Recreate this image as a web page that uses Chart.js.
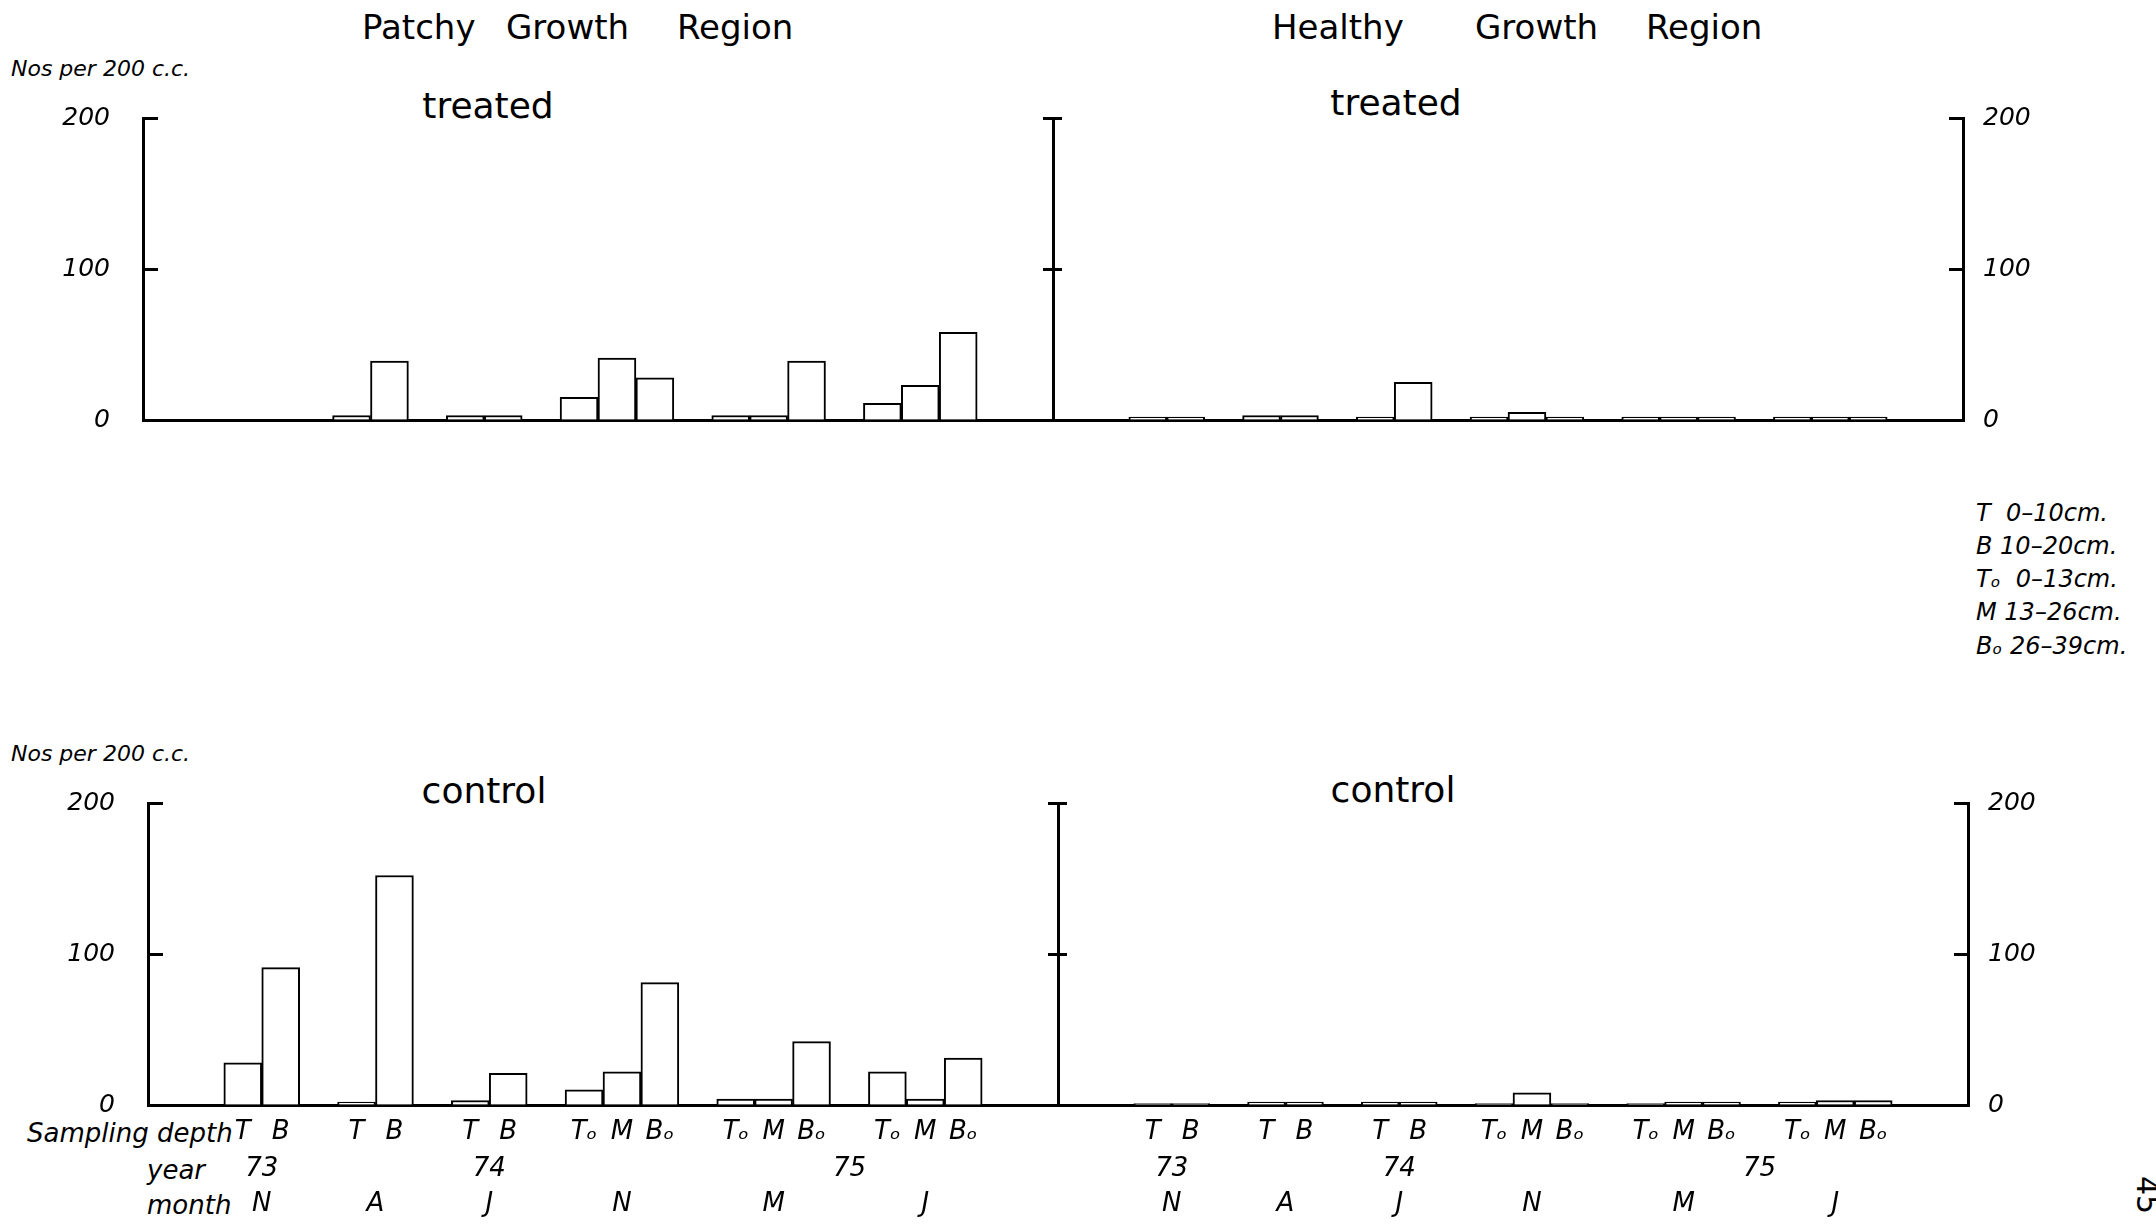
<!DOCTYPE html>
<html>
<head>
<meta charset="utf-8">
<script src="https://cdn.jsdelivr.net/npm/chart.js@4.4.1/dist/chart.umd.min.js"></script>
<style>
  html, body { margin: 0; padding: 0; background: #fff; }
  body { width: 2156px; height: 1224px; position: relative; overflow: hidden; font-family: "DejaVu Sans", sans-serif; color: #000; }
  .t { position: absolute; white-space: pre; line-height: 1; transform: translateY(-50%); }
  .c { transform: translate(-50%, -50%); }
  .i { font-style: italic; }
  canvas { position: absolute; left: 0; }
</style>
</head>
<body>
<div class="t" style="left:362px;top:27px;font-size:34px">Patchy</div>
<div class="t" style="left:506px;top:27px;font-size:34px">Growth</div>
<div class="t" style="left:677px;top:27px;font-size:34px">Region</div>
<div class="t" style="left:1272px;top:27px;font-size:34px">Healthy</div>
<div class="t" style="left:1475px;top:27px;font-size:34px">Growth</div>
<div class="t" style="left:1646px;top:27px;font-size:34px">Region</div>

<div class="t i" style="left:11px;top:69px;font-size:22px">Nos per 200 c.c.</div>
<div class="t i" style="left:11px;top:754px;font-size:22px">Nos per 200 c.c.</div>

<div class="t c" style="left:488px;top:106px;font-size:36px">treated</div>
<div class="t c" style="left:1396px;top:103px;font-size:36px">treated</div>
<div class="t c" style="left:484px;top:791px;font-size:36px">control</div>
<div class="t c" style="left:1393px;top:790px;font-size:36px">control</div>

<div class="t i" style="left:1976px;top:513px;font-size:24px">T  0–10cm.</div>
<div class="t i" style="left:1976px;top:546px;font-size:24px">B 10–20cm.</div>
<div class="t i" style="left:1976px;top:579px;font-size:24px">Tₒ  0–13cm.</div>
<div class="t i" style="left:1976px;top:612px;font-size:24px">M 13–26cm.</div>
<div class="t i" style="left:1976px;top:646px;font-size:24px">Bₒ 26–39cm.</div>

<div class="t i" style="left:27px;top:1133px;font-size:26px">Sampling depth</div>
<div class="t i" style="left:147px;top:1170px;font-size:26px">year</div>
<div class="t i" style="left:147px;top:1205px;font-size:26px">month</div>

<div class="t" style="left:2128px;top:1195px;font-size:30px;transform:translateY(-50%) rotate(90deg)">45</div>

<canvas id="treated-chart" width="2156" height="520" style="top:0"></canvas>
<canvas id="control-chart" width="2156" height="524" style="top:700px"></canvas>

<script>
// sampling months, in order, and the depths sampled in each
const months = ['N', 'A', 'J', 'N', 'M', 'J'];
const years = ['73', '74', '75'];
const yearGroups = [[0, 0], [2, 2], [4, 5]]; // month groups each year label sits under
const depths = [
    ['T', 'B'], ['T', 'B'], ['T', 'B'],
    ['Tₒ', 'M', 'Bₒ'], ['Tₒ', 'M', 'Bₒ'], ['Tₒ', 'M', 'Bₒ']
];

// Nos per 200 c.c., one value per depth, month after month
const patchyTreated = [0, 0, 3, 39, 3, 3, 15, 41, 28, 3, 3, 39, 11, 23, 58];
const healthyTreated = [2, 2, 3, 3, 2, 25, 2, 5, 2, 2, 2, 2, 2, 2, 2];
const patchyControl = [28, 91, 2, 152, 3, 21, 10, 22, 81, 4, 4, 42, 22, 4, 31];
const healthyControl = [1, 1, 2, 2, 2, 2, 1, 8, 1, 1, 2, 2, 2, 3, 3];

const yTicks = [0, 100, 200];

Chart.defaults.font.family = '"DejaVu Sans", sans-serif';
Chart.defaults.color = '#000';

// each region takes half of the x axis: two empty slots, then the month groups with a gap after each
const HALF = 24;
const slotOf = [];
const groupSpan = [];
let slot = 2;
depths.forEach(g => {
    groupSpan.push([slot, slot + g.length - 1]);
    g.forEach(() => slotOf.push(slot++));
    slot++;
});

const depthLabels = new Array(2 * HALF).fill('');
depths.flat().forEach((d, k) => {
    depthLabels[slotOf[k]] = d;
    depthLabels[slotOf[k] + HALF] = d;
});

function spread(values, half) {
    const out = new Array(2 * HALF).fill(null);
    values.forEach((v, k) => { out[slotOf[k] + half * HALF] = v; });
    return out;
}

const centre = (a, b) => (groupSpan[a][0] + groupSpan[b][1]) / 2;
const monthTicks = [];
const yearTicks = [];
[0, 1].forEach(h => {
    months.forEach((m, g) => monthTicks.push({ value: centre(g, g) + h * HALF, label: m }));
    years.forEach((y, i) => yearTicks.push({ value: centre(yearGroups[i][0], yearGroups[i][1]) + h * HALF, label: y }));
});

const italic = size => ({ size: size, style: 'italic' });

function labelAxis(list, weight, height, padding) {
    return {
        type: 'linear', axis: 'x', position: 'bottom', weight: weight,
        min: -0.5, max: 2 * HALF - 0.5, offset: false, bounds: 'data',
        afterBuildTicks: s => { s.ticks = list.map(t => ({ value: t.value })); },
        grid: { display: false, drawTicks: false },
        border: { display: false },
        ticks: { autoSkip: false, maxRotation: 0, padding: padding, font: italic(26), callback: (v, i) => list[i].label },
        afterFit: s => { s.height = height; }
    };
}

function renderPanel(id, area, patchy, healthy, withLabels) {
    const ctx = document.getElementById(id).getContext('2d');
    const canvasW = 2156;
    const yCommon = {
        min: 0, max: 200,
        afterBuildTicks: s => { s.ticks = yTicks.map(v => ({ value: v })); }
    };
    const scales = {
        x: {
            type: 'category', weight: 0, offset: true,
            grid: { display: false, drawTicks: false },
            border: { display: true, width: 3, color: '#000' },
            ticks: { display: withLabels, autoSkip: false, maxRotation: 0, padding: 12, font: italic(26) },
            afterFit: s => { s.height = area.xHeight; }
        },
        y: {
            ...yCommon, position: 'left',
            grid: { drawOnChartArea: false, tickLength: -15, tickWidth: 3, tickColor: '#000' },
            border: { width: 3, color: '#000' },
            ticks: { padding: 48, font: italic(25) },
            afterFit: s => { s.width = area.left; }
        },
        yR: {
            ...yCommon, axis: 'y', position: 'right',
            grid: { drawOnChartArea: false, tickLength: -14, tickWidth: 3, tickColor: '#000' },
            border: { width: 3, color: '#000' },
            ticks: { padding: 34, font: italic(25) },
            afterFit: s => { s.width = canvasW - area.right; }
        },
        yMidL: {
            ...yCommon, axis: 'y', position: { x: HALF - 0.5 },
            grid: { drawOnChartArea: false, tickLength: 9, tickWidth: 3, tickColor: '#000' },
            border: { width: 3, color: '#000' },
            ticks: { display: false }
        },
        yMidR: {
            ...yCommon, axis: 'y', position: { x: HALF - 0.5 },
            grid: { drawOnChartArea: false, tickLength: -9, tickWidth: 3, tickColor: '#000' },
            border: { display: false },
            ticks: { display: false }
        }
    };
    if (withLabels) {
        scales.xYear = labelAxis(yearTicks, 1, 38, 7);
        scales.xMonth = labelAxis(monthTicks, 2, 39, 4);
    }

    const barStyle = {
        backgroundColor: '#fff', borderColor: '#000', borderWidth: 2,
        barPercentage: 1, categoryPercentage: 1, grouped: false
    };

    new Chart(ctx, {
        type: 'bar',
        data: {
            labels: depthLabels,
            datasets: [
                { label: 'Patchy Growth Region', data: spread(patchy, 0), ...barStyle },
                { label: 'Healthy Growth Region', data: spread(healthy, 1), ...barStyle }
            ]
        },
        options: {
            responsive: false,
            animation: false,
            layout: { padding: { top: area.top, left: 0, right: 0, bottom: 0 } },
            plugins: { legend: { display: false }, tooltip: { enabled: false } },
            scales: scales
        }
    });
}

renderPanel('treated-chart', { top: 118, left: 143, right: 1963, xHeight: 100 }, patchyTreated, healthyTreated, false);
renderPanel('control-chart', { top: 103, left: 148, right: 1968, xHeight: 42 }, patchyControl, healthyControl, true);
</script>
</body>
</html>
